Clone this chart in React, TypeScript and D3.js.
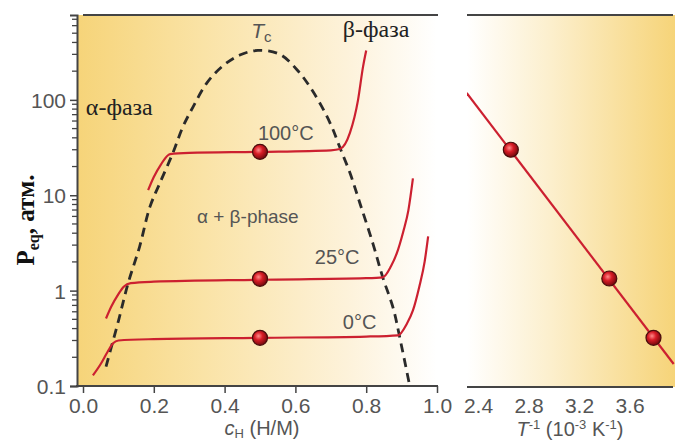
import React, { useEffect, useRef } from "react";
import * as d3 from "d3";

// isotherms, c_H (H/M) vs P (atm)
const cH100 = [0.184, 0.2, 0.22, 0.246, 0.3, 0.5, 0.7, 0.726, 0.754, 0.777, 0.791, 0.8];
const p100 = [11.3, 15.5, 21, 27, 27.8, 28.5, 29.6, 30.5, 45, 100, 222, 330];
const cH25 = [0.065, 0.08, 0.1, 0.115, 0.135, 0.2, 0.5, 0.8, 0.847, 0.87, 0.886, 0.905, 0.919, 0.932];
const p25 = [0.51, 0.68, 0.92, 1.1, 1.2, 1.24, 1.3, 1.35, 1.38, 1.8, 2.44, 4.2, 6.9, 15];
const cH0 = [0.028, 0.05, 0.07, 0.085, 0.1, 0.2, 0.5, 0.8, 0.89, 0.915, 0.932, 0.95, 0.965, 0.975];
const p0 = [0.129, 0.17, 0.23, 0.28, 0.3, 0.31, 0.32, 0.33, 0.34, 0.45, 0.62, 1.1, 2.0, 3.7];

// two-phase dome
const cDome = [0.065, 0.1, 0.127, 0.16, 0.189, 0.2175, 0.254, 0.282, 0.311, 0.35, 0.395, 0.443, 0.494,
  0.556, 0.605, 0.641, 0.675, 0.703, 0.726, 0.754, 0.782, 0.819, 0.847, 0.876, 0.895, 0.921];
const pDome = [0.16, 0.48, 1.18, 2.9, 7.55, 13.5, 27.8, 52, 84.5, 151, 227, 295, 330,
  300, 206, 137, 84.5, 52, 31.4, 17.2, 8.3, 3.11, 1.37, 0.66, 0.32, 0.109];

const markerCH = [0.5, 0.5, 0.5];
const markerP = [28.5, 1.33, 0.32];

// van't Hoff panel
const invT = [2.66, 3.44, 3.79];
const pT = [30, 1.34, 0.32];
const fitInvT = [2.31, 3.95];
const fitP = [118, 0.17];

const cTicks = [0, 0.2, 0.4, 0.6, 0.8, 1.0];
const pTicks = [0.1, 1, 10, 100];
const invTTicks = [2.4, 2.8, 3.2, 3.6];

const SANS = "'Liberation Sans', Arial, sans-serif";
const SERIF = "'Liberation Serif', 'Times New Roman', serif";

const App = () => {
  const svgRef = useRef<SVGSVGElement>(null);

  useEffect(() => {
    const svg = d3.select(svgRef.current);
    svg.selectAll("*").remove();

    const x = d3.scaleLinear().domain([0, 1]).range([83, 437]);
    const y = d3.scaleLog().domain([0.1, 776]).range([386, 15]);
    const xr = d3.scaleLinear().domain([2.4, 3.6]).range([478, 629.5]);

    const defs = svg.append("defs");
    const gl = defs.append("linearGradient").attr("id", "bgL");
    gl.append("stop").attr("offset", "0%").attr("stop-color", "#f6d479");
    gl.append("stop").attr("offset", "35%").attr("stop-color", "#fae3a6");
    gl.append("stop").attr("offset", "75%").attr("stop-color", "#fdf2da");
    gl.append("stop").attr("offset", "100%").attr("stop-color", "#ffffff");
    const gr = defs.append("linearGradient").attr("id", "bgR");
    gr.append("stop").attr("offset", "0%").attr("stop-color", "#ffffff");
    gr.append("stop").attr("offset", "40%").attr("stop-color", "#fcefcd");
    gr.append("stop").attr("offset", "100%").attr("stop-color", "#f6d479");
    const rg = defs.append("radialGradient").attr("id", "ball")
      .attr("cx", "40%").attr("cy", "38%").attr("r", "60%");
    rg.append("stop").attr("offset", "0%").attr("stop-color", "#ff8a8a");
    rg.append("stop").attr("offset", "45%").attr("stop-color", "#d81c26");
    rg.append("stop").attr("offset", "100%").attr("stop-color", "#7a0a0e");
    defs.append("clipPath").attr("id", "clipR").append("rect")
      .attr("x", 467).attr("y", 15).attr("width", 208).attr("height", 372);

    // backgrounds
    svg.append("rect").attr("x", 77).attr("y", 15).attr("width", 360).attr("height", 371).attr("fill", "url(#bgL)");
    svg.append("rect").attr("x", 467).attr("y", 15).attr("width", 208).attr("height", 372).attr("fill", "url(#bgR)");

    // frame lines
    svg.append("line").attr("x1", 83).attr("x2", 438).attr("y1", 15).attr("y2", 15).attr("stroke", "#444").attr("stroke-width", 2);
    svg.append("line").attr("x1", 467).attr("x2", 673).attr("y1", 15).attr("y2", 15).attr("stroke", "#444").attr("stroke-width", 2);
    svg.append("line").attr("x1", 467).attr("x2", 673).attr("y1", 387).attr("y2", 387).attr("stroke", "#444").attr("stroke-width", 2);

    // left axis
    const yAxis = d3.axisLeft(y).tickValues(pTicks).tickSize(7).tickFormat((d) => String(d));
    const gy = svg.append("g").attr("transform", "translate(77,0)").call(yAxis);
    gy.select(".domain").attr("stroke", "#444").attr("stroke-width", 2);
    gy.selectAll(".tick line").attr("stroke", "#444").attr("stroke-width", 1.5);
    gy.selectAll("text").attr("font-family", SANS).attr("font-size", 21).attr("fill", "#555").attr("x", -11).attr("dy", "0.36em");
    const minor: number[] = [];
    [0.1, 1, 10, 100].forEach((dec) => {
      for (let k = 2; k <= 9; k++) if (dec * k < 776) minor.push(dec * k);
    });
    svg.append("g").selectAll("line").data(minor).join("line")
      .attr("x1", 72).attr("x2", 77).attr("y1", (d) => y(d)).attr("y2", (d) => y(d))
      .attr("stroke", "#444").attr("stroke-width", 1.3);

    // bottom axis
    const xAxis = d3.axisBottom(x).tickValues(cTicks).tickSize(7).tickFormat(d3.format(".1f"));
    const gx = svg.append("g").attr("transform", "translate(0,386)").call(xAxis);
    gx.select(".domain").remove();
    gx.selectAll(".tick line").attr("stroke", "#444").attr("stroke-width", 1.5);
    gx.selectAll("text").attr("font-family", SANS).attr("font-size", 21).attr("fill", "#555").attr("y", 12);
    svg.append("line").attr("x1", 76).attr("x2", 438).attr("y1", 386).attr("y2", 386).attr("stroke", "#444").attr("stroke-width", 2);

    // right axis labels
    const rAxis = d3.axisBottom(xr).tickValues(invTTicks).tickSize(0).tickFormat(d3.format(".1f"));
    const grx = svg.append("g").attr("transform", "translate(0,387)").call(rAxis);
    grx.select(".domain").remove();
    grx.selectAll("text").attr("font-family", SANS).attr("font-size", 21).attr("fill", "#555").attr("y", 11);

    // dome
    const domeLine = d3.line<[number, number]>()
      .x((d) => x(d[0])).y((d) => y(d[1])).curve(d3.curveCatmullRom.alpha(0.5));
    svg.append("path").datum(d3.zip(cDome, pDome) as [number, number][])
      .attr("d", domeLine).attr("fill", "none").attr("stroke", "#2a2a2a")
      .attr("stroke-width", 2.8).attr("stroke-dasharray", "9 6");

    // isotherms
    const isoLine = d3.line<[number, number]>()
      .x((d) => x(d[0])).y((d) => y(d[1])).curve(d3.curveMonotoneX);
    const iso = [[cH100, p100], [cH25, p25], [cH0, p0]];
    svg.append("g").selectAll("path").data(iso).join("path")
      .attr("d", (d) => isoLine(d3.zip(d[0], d[1]) as [number, number][]))
      .attr("fill", "none").attr("stroke", "#cc2030").attr("stroke-width", 2.2);

    svg.append("g").selectAll("circle").data(d3.zip(markerCH, markerP)).join("circle")
      .attr("cx", (d) => x(d[0])).attr("cy", (d) => y(d[1])).attr("r", 7.5)
      .attr("fill", "url(#ball)").attr("stroke", "#4a0c0c").attr("stroke-width", 1.2);

    // right panel
    const gR = svg.append("g").attr("clip-path", "url(#clipR)");
    gR.append("path").datum(d3.zip(fitInvT, fitP))
      .attr("d", d3.line<number[]>().x((d) => xr(d[0])).y((d) => y(d[1])))
      .attr("fill", "none").attr("stroke", "#cc2030").attr("stroke-width", 2.2);
    gR.append("g").selectAll("circle").data(d3.zip(invT, pT)).join("circle")
      .attr("cx", (d) => xr(d[0])).attr("cy", (d) => y(d[1])).attr("r", 7.5)
      .attr("fill", "url(#ball)").attr("stroke", "#4a0c0c").attr("stroke-width", 1.2);

    // annotations
    const ann = svg.append("g").attr("font-family", SANS).attr("fill", "#555");
    ann.append("text").attr("x", x(0.494)).attr("y", y(38)).attr("font-size", 20).text("100°C");
    ann.append("text").attr("x", x(0.655)).attr("y", y(1.92)).attr("font-size", 20).text("25°C");
    ann.append("text").attr("x", x(0.734)).attr("y", y(0.4)).attr("font-size", 20).text("0°C");
    ann.append("text").attr("x", x(0.322)).attr("y", y(5.1)).attr("font-size", 19).text("α + β-phase");
    const tc = ann.append("text").attr("x", x(0.475)).attr("y", y(446)).attr("font-size", 21);
    tc.append("tspan").attr("font-style", "italic").text("T");
    tc.append("tspan").attr("font-size", 15).attr("dy", 4).text("c");

    const ser = svg.append("g").attr("font-family", SERIF).attr("fill", "#222").attr("font-size", 24);
    ser.append("text").attr("x", x(0.734)).attr("y", y(457)).text("β-фаза");
    ser.append("text").attr("x", x(0.008)).attr("y", y(70)).text("α-фаза");

    // axis titles
    const yl = svg.append("text").attr("transform", "translate(34,220) rotate(-90)")
      .attr("text-anchor", "middle").attr("font-family", SERIF).attr("font-weight", "bold")
      .attr("font-size", 25).attr("fill", "#111");
    yl.append("tspan").text("P");
    yl.append("tspan").attr("font-size", 16).attr("dy", 5).text("eq");
    yl.append("tspan").attr("dy", -5).text(", атм.");

    const xl = svg.append("text").attr("x", 262).attr("y", 435).attr("text-anchor", "middle")
      .attr("font-family", SANS).attr("font-size", 20).attr("fill", "#555");
    xl.append("tspan").attr("font-style", "italic").text("c");
    xl.append("tspan").attr("font-size", 13).attr("dy", 3).text("H");
    xl.append("tspan").attr("dy", -3).text(" (H/M)");

    const rl = svg.append("text").attr("x", 570).attr("y", 436).attr("text-anchor", "middle")
      .attr("font-family", SANS).attr("font-size", 20).attr("fill", "#555");
    rl.append("tspan").attr("font-style", "italic").text("T");
    rl.append("tspan").attr("font-size", 13).attr("dy", -7).text("-1");
    rl.append("tspan").attr("dy", 7).text(" (10");
    rl.append("tspan").attr("font-size", 13).attr("dy", -7).text("-3");
    rl.append("tspan").attr("dy", 7).text(" K");
    rl.append("tspan").attr("font-size", 13).attr("dy", -7).text("-1");
    rl.append("tspan").attr("dy", 7).text(")");
  }, []);

  return (
    <div>
      <svg ref={svgRef} width={675} height={441}
        style={{ position: "absolute", left: 0, top: 0, background: "#fff" }}></svg>
    </div>
  );
};

export default App;
